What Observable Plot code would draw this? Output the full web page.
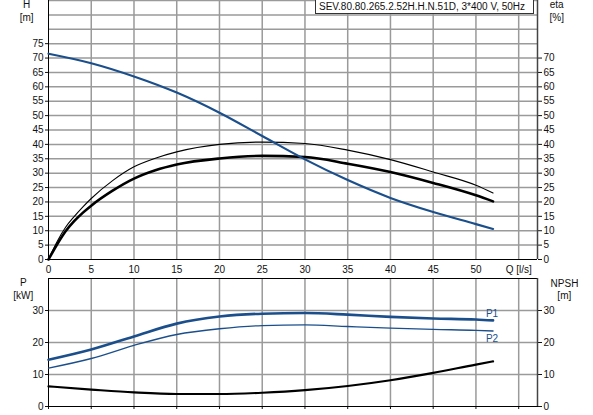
<!DOCTYPE html>
<html>
<head>
<meta charset="utf-8">
<script src="https://cdn.jsdelivr.net/npm/d3@7"></script>
<script src="https://cdn.jsdelivr.net/npm/@observablehq/plot@0.6"></script>
<style>
  html, body { margin: 0; padding: 0; background: #fff; }
  #wrap { position: relative; width: 593px; height: 415px; font-family: "Liberation Sans", Arial, sans-serif; font-size: 10px; color: #111; overflow: hidden; }
  #wrap svg { position: absolute; left: 0; overflow: visible; }
  .lbl { position: absolute; transform: translate(-50%, -50%); white-space: nowrap; line-height: 1; }
  #title { position: absolute; left: 315px; top: -1px; width: 219px; height: 15px; border: 1px solid #333; background: #fff; box-sizing: border-box; padding-left: 3px; line-height: 14px; white-space: nowrap; }
</style>
</head>
<body>
<div id="wrap"></div>
<script>
// ---- data ----
const title = "SEV.80.80.265.2.52H.H.N.51D, 3*400 V, 50Hz";
const qEta = [0, 1, 2, 3, 4, 5, 7.5, 10, 12.5, 15, 20, 25, 30, 35, 40, 45, 50, 52];
const etaThin  = [0, 6.2, 11.2, 14.9, 18.2, 21.2, 27.4, 32.2, 35.2, 37.4, 40.0, 40.8, 40.3, 38.0, 34.7, 30.4, 25.8, 23.1];
const etaThick = [0, 5.2, 9.8, 13.3, 16.2, 18.7, 23.9, 28.1, 31.0, 33.0, 35.1, 36.0, 35.6, 33.3, 30.4, 26.6, 22.3, 20.2];
const qMain = [0, 5, 10, 15, 20, 25, 30, 35, 40, 45, 50, 52];
const head = [71.5, 68.2, 63.6, 58.0, 51.0, 42.9, 34.8, 27.6, 21.4, 16.5, 12.3, 10.6];
const p1   = [14.6, 17.8, 21.9, 25.9, 28.1, 29.0, 29.2, 28.7, 28.0, 27.5, 27.2, 26.9];
const p2   = [12.0, 15.0, 19.1, 22.5, 24.3, 25.3, 25.5, 25.0, 24.5, 24.1, 23.8, 23.6];
const npsh = [6.3, 5.3, 4.4, 3.9, 3.9, 4.3, 5.1, 6.4, 8.2, 10.5, 13.1, 14.1];
const xTicks = [0, 5, 10, 15, 20, 25, 30, 35, 40, 45, 50, 55];
const xGrid = [5, 10, 15, 20, 25, 30, 35, 40, 45, 50, 55];
const hTicks = [0, 5, 10, 15, 20, 25, 30, 35, 40, 45, 50, 55, 60, 65, 70, 75];
const etaTicks = [0, 5, 10, 15, 20, 25, 30, 35, 40, 45, 50, 55, 60, 65, 70];
const hGrid = [5, 10, 15, 20, 25, 30, 35, 40, 45, 50, 55, 60, 65, 70, 75, 80, 85, 90];
const pTicks = [0, 10, 20, 30];
const pGrid = [10, 20, 30];
const xDomain = [0, 57.2];
const topDomain = [0, 90];
const botDomain = [0, 40];

const BLUE = "#1b4f8c";
const GRID = "#9a9a9a";

const toRows = (qs, vs) => qs.map((q, i) => ({q, v: vs[i]}));
const thinRows = toRows(qEta, etaThin);
const thickRows = toRows(qEta, etaThick);
const headRows = toRows(qMain, head);
const p1Rows = toRows(qMain, p1);
const p2Rows = toRows(qMain, p2);
const npshRows = toRows(qMain, npsh);

const common = {
  width: 593,
  marginLeft: 48,
  marginRight: 56,
  style: {fontFamily: '"Liberation Sans", Arial, sans-serif', fontSize: "10px", color: "#111", background: "transparent"}
};

const topPlot = Plot.plot({
  ...common,
  height: 276,
  marginTop: 0,
  marginBottom: 17,
  x: {domain: xDomain, label: null},
  y: {domain: topDomain, label: null},
  marks: [
    Plot.ruleX(xGrid, {stroke: GRID, strokeWidth: 1.5}),
    Plot.ruleY(hGrid, {stroke: GRID, strokeWidth: 1.5}),
    Plot.axisX({ticks: xTicks, tickSize: 0, tickPadding: 6, label: null,
      tickFormat: d => d === 55 ? "Q [l/s]" : String(d)}),
    Plot.axisY({anchor: "left", ticks: hTicks, tickSize: 3, tickPadding: 2, label: null}),
    Plot.axisY({anchor: "right", ticks: etaTicks, tickSize: 4, tickPadding: 2, label: null}),
    Plot.ruleX([xDomain[0]], {stroke: "#000", strokeWidth: 1}),
    Plot.ruleX([xDomain[1]], {stroke: "#444", strokeWidth: 1.5}),
    Plot.ruleY([0], {stroke: "#000", strokeWidth: 1}),
    Plot.line(thinRows, {x: "q", y: "v", stroke: "#000", strokeWidth: 1.1, curve: "monotone-x"}),
    Plot.line(thickRows, {x: "q", y: "v", stroke: "#000", strokeWidth: 2.6, curve: "monotone-x"}),
    Plot.line(headRows, {x: "q", y: "v", stroke: BLUE, strokeWidth: 2.2, curve: "monotone-x"})
  ]
});
topPlot.style.top = "0px";

const bottomPlot = Plot.plot({
  ...common,
  height: 139,
  marginTop: 2,
  marginBottom: 9,
  x: {domain: xDomain, label: null},
  y: {domain: botDomain, label: null},
  marks: [
    Plot.ruleX(xGrid, {stroke: GRID, strokeWidth: 1.5}),
    Plot.ruleY(pGrid, {stroke: GRID, strokeWidth: 1.5}),
    Plot.axisX({ticks: xTicks, tickSize: 3, tickFormat: () => "", label: null}),
    Plot.axisY({anchor: "left", ticks: pTicks, tickSize: 3, tickPadding: 2, label: null}),
    Plot.axisY({anchor: "right", ticks: pTicks, tickSize: 4, tickPadding: 2, label: null}),
    Plot.frame({stroke: "#000", strokeWidth: 1}),
    Plot.ruleX([xDomain[1]], {stroke: "#444", strokeWidth: 1.5}),
    Plot.line(npshRows, {x: "q", y: "v", stroke: "#000", strokeWidth: 2.2, curve: "monotone-x"}),
    Plot.line(p2Rows, {x: "q", y: "v", stroke: BLUE, strokeWidth: 1.3, curve: "monotone-x"}),
    Plot.line(p1Rows, {x: "q", y: "v", stroke: BLUE, strokeWidth: 2.6, curve: "monotone-x"}),
    Plot.text([p1Rows[p1Rows.length - 1]], {x: "q", y: "v", text: () => "P1", fill: BLUE, dy: -7, dx: -1, fontSize: 10}),
    Plot.text([p2Rows[p2Rows.length - 1]], {x: "q", y: "v", text: () => "P2", fill: BLUE, dy: 8, dx: -1, fontSize: 10})
  ]
});
bottomPlot.style.top = "276px";

const wrap = document.getElementById("wrap");
wrap.appendChild(topPlot);
wrap.appendChild(bottomPlot);

const labels = [
  ["H", 26.7, 5], ["[m]", 26.7, 17.5],
  ["eta", 556.7, 5], ["[%]", 556.7, 17.5],
  ["P", 23.3, 283], ["[kW]", 23.3, 295.5],
  ["NPSH", 564.5, 283.5], ["[m]", 564.3, 295.5]
];
for (const [t, x, y] of labels) {
  const d = document.createElement("div");
  d.className = "lbl";
  d.textContent = t;
  d.style.left = x + "px";
  d.style.top = y + "px";
  wrap.appendChild(d);
}
const tb = document.createElement("div");
tb.id = "title";
tb.textContent = title;
wrap.appendChild(tb);
</script>
</body>
</html>
